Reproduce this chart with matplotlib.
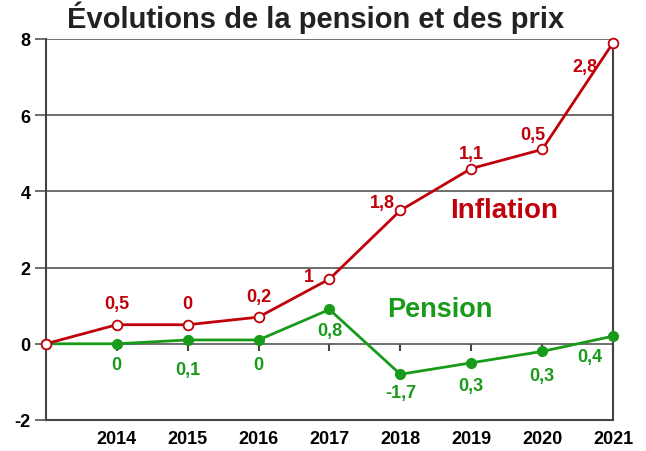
import matplotlib
matplotlib.use("Agg")
import matplotlib.pyplot as plt

years = [2013, 2014, 2015, 2016, 2017, 2018, 2019, 2020, 2021]
inflation = [0, 0.5, 0.5, 0.7, 1.7, 3.5, 4.6, 5.1, 7.9]
pension = [0, 0, 0.1, 0.1, 0.9, -0.8, -0.5, -0.2, 0.2]
infl_labels = ["", "0,5", "0", "0,2", "1", "1,8", "1,1", "0,5", "2,8"]
pens_labels = ["", "0", "0,1", "0", "0,8", "-1,7", "0,3", "0,3", "0,4"]
tick_years = years[1:]

# label offsets in points (dx, dy)
infl_off = [(0, 0), (0, 15), (0, 15), (0, 15), (-15, 2), (-13, 6), (0, 11), (-7, 11), (-20, -17)]
pens_off = [(0, 0), (0, -15), (0, -21), (0, -18), (0, -15), (0, -13), (0, -16), (0, -17), (-17, -15)]

RED = "#c0000b"
GREEN = "#1a9a1a"
plt.rcParams["font.family"] = ["Liberation Sans", "DejaVu Sans"]
plt.rcParams["font.weight"] = "bold"

fig = plt.figure(figsize=(6.46, 4.52), dpi=100)
ax = fig.add_axes([0.071, 0.0686, 0.878, 0.843])

ax.set_xlim(2013, 2021)
ax.set_ylim(-2, 8)
ax.set_yticks([-2, 0, 2, 4, 6, 8])
ax.set_yticklabels(["-2", "0", "2", "4", "6", "8"], fontsize=13, fontweight="bold")
ax.set_xticks(tick_years)
ax.set_xticklabels([str(y) for y in tick_years], fontsize=13, fontweight="bold")
ax.tick_params(axis="x", length=0, pad=7)
ax.tick_params(axis="y", length=8, width=1.2, color="#555555", pad=3)
for y in [0, 2, 4, 6, 8]:
    ax.axhline(y, color="#555555", lw=1.2, zorder=1)
for s in ["left", "right", "bottom"]:
    ax.spines[s].set_color("#444444")
    ax.spines[s].set_linewidth(1.5)
ax.spines["top"].set_visible(False)

# small tick marks on the zero line
sec = ax.secondary_xaxis(0, transform=ax.transData)
sec.set_xticks(tick_years)
sec.set_xticklabels([])
sec.tick_params(length=5, width=1.5, color="#444444", direction="out")
sec.spines["bottom"].set_visible(False)

ax.plot(years, inflation, color=RED, lw=2, marker="o", ms=7, mfc="white",
        mec=RED, mew=1.3, zorder=4, clip_on=False)
ax.plot(years, pension, color=GREEN, lw=2, marker="o", ms=7, mfc=GREEN,
        mec=GREEN, zorder=3, clip_on=False)

for x, y, t, o in zip(years, inflation, infl_labels, infl_off):
    if t:
        ax.annotate(t, (x, y), xytext=o, textcoords="offset points", ha="center",
                    va="center", color=RED, fontsize=13, fontweight="bold")
for x, y, t, o in zip(years, pension, pens_labels, pens_off):
    if t:
        ax.annotate(t, (x, y), xytext=o, textcoords="offset points", ha="center",
                    va="center", color=GREEN, fontsize=13, fontweight="bold")

ax.text(2019.47, 3.5, "Inflation", color=RED, fontsize=20, fontweight="bold",
        ha="center", va="center")
ax.text(2018.56, 0.9, "Pension", color=GREEN, fontsize=19.5, fontweight="bold",
        ha="center", va="center")

fig.text(0.488, 0.96, "Évolutions de la pension et des prix", ha="center",
         va="center", fontsize=21, fontweight="bold", color="#222222")

fig.savefig("out.png", dpi=100)
